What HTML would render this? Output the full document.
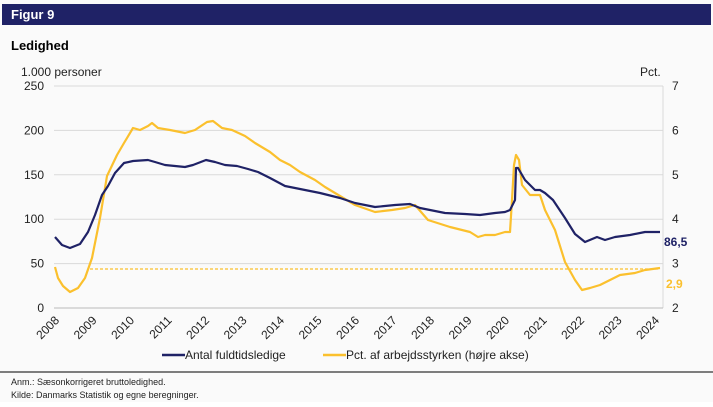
<!DOCTYPE html>
<html><head><meta charset="utf-8"><style>
body{margin:0;background:#fff;width:713px;height:402px;overflow:hidden;font-family:"Liberation Sans",sans-serif;}
</style></head><body>
<svg width="713" height="402" xmlns="http://www.w3.org/2000/svg" font-family="Liberation Sans, sans-serif">
<rect x="0" y="0" width="713" height="402" fill="#fafafa"/>
<rect x="2" y="4" width="709" height="21" fill="#1f2266"/>
<text x="11" y="19" font-size="13" font-weight="bold" fill="#fff">Figur 9</text>
<text x="11" y="50" font-size="13" font-weight="bold" fill="#000">Ledighed</text>
<text x="21" y="76" font-size="12" fill="#222">1.000 personer</text>
<text x="640" y="76" font-size="12" fill="#222">Pct.</text>
<g stroke="#d9d9d9" stroke-width="1">
<line x1="54" y1="86" x2="663" y2="86"/><line x1="54" y1="130.4" x2="663" y2="130.4"/><line x1="54" y1="174.8" x2="663" y2="174.8"/><line x1="54" y1="219.2" x2="663" y2="219.2"/><line x1="54" y1="263.6" x2="663" y2="263.6"/>
<line x1="663" y1="86" x2="663" y2="308"/>
</g>
<line x1="54" y1="308" x2="663" y2="308" stroke="#bbb"/>
<path id="tk" stroke="#ccc" stroke-width="0.8" d=""/>
<g stroke="#c8c8c8" stroke-width="0.8">
<script type="text/ignore"></script>
</g>
<g font-size="12" fill="#222" text-anchor="end">
<text x="44" y="90">250</text><text x="44" y="134.4">200</text><text x="44" y="178.8">150</text><text x="44" y="223.2">100</text><text x="44" y="267.6">50</text><text x="44" y="312">0</text>
</g>
<g font-size="12" fill="#222">
<text x="672" y="90">7</text><text x="672" y="134.4">6</text><text x="672" y="178.8">5</text><text x="672" y="223.2">4</text><text x="672" y="267.6">3</text><text x="672" y="312">2</text>
</g>
<g font-size="12" fill="#222" text-anchor="end">
<text transform="translate(60,321) rotate(-45)">2008</text>
<text transform="translate(97.5,321) rotate(-45)">2009</text>
<text transform="translate(135,321) rotate(-45)">2010</text>
<text transform="translate(172.5,321) rotate(-45)">2011</text>
<text transform="translate(210,321) rotate(-45)">2012</text>
<text transform="translate(247.5,321) rotate(-45)">2013</text>
<text transform="translate(285,321) rotate(-45)">2014</text>
<text transform="translate(322.5,321) rotate(-45)">2015</text>
<text transform="translate(360,321) rotate(-45)">2016</text>
<text transform="translate(397.5,321) rotate(-45)">2017</text>
<text transform="translate(435,321) rotate(-45)">2018</text>
<text transform="translate(472.5,321) rotate(-45)">2019</text>
<text transform="translate(510,321) rotate(-45)">2020</text>
<text transform="translate(547.5,321) rotate(-45)">2021</text>
<text transform="translate(585,321) rotate(-45)">2022</text>
<text transform="translate(622.5,321) rotate(-45)">2023</text>
<text transform="translate(660,321) rotate(-45)">2024</text>
</g>
<line x1="90" y1="269" x2="660" y2="269" stroke="#fbc02d" stroke-width="1.2" stroke-dasharray="3,2"/>
<polyline fill="none" stroke="#fbc02d" stroke-width="2.2" stroke-linejoin="round" points="55,267 58,278 63,286 70,292 78,288 85,278 92,258 100,218 107,176 117,155 124,143 133,128 140,130 148,126 152,123 158,128 170,130 185,133 195,130 207,122 213,121 222,128 232,130 245,136 255,143 270,152 280,160 290,165 300,172 315,180 325,187 335,193 355,205 375,212 392,210 405,208 415,205 428,220 450,227 470,232 478,237 485,235 495,235 505,232 510,232 512,200 514,165 516,155 519,160 522,185 530,195 540,195 545,210 555,230 565,262 575,280 582,290 590,288 600,285 610,280 620,275 635,273 645,270 660,268"/>
<polyline fill="none" stroke="#1f2266" stroke-width="2.2" stroke-linejoin="round" points="55,237 62,245 70,248 80,244 88,232 95,215 102,195 108,186 115,173 124,163 133,161 148,160 155,162 165,165 185,167 193,165 206,160 215,162 225,165 237,166 248,169 258,172 270,178 285,186 305,190 320,193 340,198 355,203 375,207 395,205 410,204 420,208 430,210 445,213 465,214 480,215 495,213 505,212 510,210 515,200 516,168 518,168 525,180 535,190 540,190 545,193 553,200 565,218 575,234 585,242 597,237 605,240 615,237 630,235 645,232 660,232"/>
<text x="664" y="246" font-size="12" font-weight="bold" fill="#1f2266">86,5</text>
<text x="666" y="288" font-size="12" font-weight="bold" fill="#fbc02d">2,9</text>
<line x1="162" y1="355" x2="185" y2="355" stroke="#1f2266" stroke-width="2.5"/>
<text x="185" y="359" font-size="12" fill="#222">Antal fuldtidsledige</text>
<line x1="323" y1="355" x2="346" y2="355" stroke="#fbc02d" stroke-width="2.5"/>
<text x="346" y="359" font-size="12" fill="#222">Pct. af arbejdsstyrken (højre akse)</text>
<line x1="0" y1="372" x2="713" y2="372" stroke="#000" stroke-width="1"/>
<text x="11" y="385" font-size="9" fill="#222">Anm.:  Sæsonkorrigeret bruttoledighed.</text>
<text x="11" y="398" font-size="9" fill="#222">Kilde:  Danmarks Statistik og egne beregninger.</text>
</svg>
</body></html>
